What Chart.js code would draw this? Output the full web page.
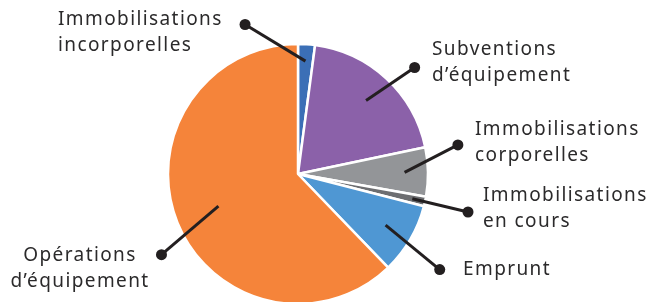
<!DOCTYPE html>
<html><head><meta charset="utf-8">
<script src="https://cdn.jsdelivr.net/npm/chart.js@4/dist/chart.umd.min.js"></script>
<style>html,body{margin:0;padding:0;background:#fff;overflow:hidden}canvas{display:block}</style>
</head><body>
<canvas id="c" width="649" height="302"></canvas>
<script>
const categories = ["Immobilisations incorporelles","Subventions d’équipement","Immobilisations corporelles","Immobilisations en cours","Emprunt","Opérations d’équipement"];
const values = [2.1, 19.6, 6.1, 1.2, 8.8, 62.2];
const colors = ["#3b6fb6","#8b61a9","#939598","#6d6e71","#4f97d3","#f5843a"];
const labelLines = [["Immobilisations","incorporelles"],["Subventions","d’équipement"],["Immobilisations","corporelles"],["Immobilisations","en cours"],["Emprunt"],["Opérations","d’équipement"]];
// leader layout: inner radius fraction, dot position (angle deg from top clockwise, radius fraction), text anchor
const leader = [
  {inner:0.87, ang:-19.5, rf:1.22, tx:58,  ty:20, align:"left"},
  {inner:0.77, ang:47.6,  rf:1.215,tx:432, ty:50, align:"left"},
  {inner:0.82, ang:79.7,  rf:1.25, tx:475, ty:130,align:"left"},
  {inner:0.90, ang:102.6, rf:1.34, tx:483, ty:196,align:"left"},
  {inner:0.78, ang:124,   rf:1.315,tx:463, ty:270,align:"left"},
  {inner:0.66, ang:239.4, rf:1.22, tx:80,  ty:256,align:"center"}
];
const labelPlugin = {
  id:'leaders',
  afterDraw(chart){
    const ctx = chart.ctx;
    const meta = chart.getDatasetMeta(0);
    ctx.save();
    meta.data.forEach((arc,i)=>{
      const p = arc.getProps(['x','y','startAngle','endAngle','outerRadius'],true);
      const mid = (p.startAngle+p.endAngle)/2;
      const L = leader[i];
      const ix = p.x + Math.cos(mid)*p.outerRadius*L.inner;
      const iy = p.y + Math.sin(mid)*p.outerRadius*L.inner;
      const a = (L.ang-90)*Math.PI/180;
      const ox = p.x + Math.cos(a)*p.outerRadius*L.rf;
      const oy = p.y + Math.sin(a)*p.outerRadius*L.rf;
      ctx.strokeStyle="#231f20"; ctx.lineWidth=3; ctx.lineCap="butt";
      ctx.beginPath(); ctx.moveTo(ix,iy); ctx.lineTo(ox,oy); ctx.stroke();
      ctx.fillStyle="#231f20"; ctx.beginPath(); ctx.arc(ox,oy,5.5,0,Math.PI*2); ctx.fill();
      ctx.fillStyle="#2b2a2b";
      ctx.font="19px 'Noto Sans'";
      if ('letterSpacing' in ctx) ctx.letterSpacing="1.4px";
      ctx.textAlign=L.align; ctx.textBaseline="middle";
      labelLines[i].forEach((t,k)=>ctx.fillText(t,L.tx,L.ty+k*26));
      if ('letterSpacing' in ctx) ctx.letterSpacing="0px";
    });
    ctx.restore();
  }
};
new Chart(document.getElementById('c'),{
  type:'pie',
  data:{labels:categories,datasets:[{data:values,backgroundColor:colors,borderColor:"#ffffff",borderWidth:2.5}]},
  options:{
    responsive:false,animation:false,
    radius:130,
    layout:{padding:{left:0,right:53,top:46,bottom:0}},
    plugins:{legend:{display:false},tooltip:{enabled:false}}
  },
  plugins:[labelPlugin]
});
</script>
</body></html>
